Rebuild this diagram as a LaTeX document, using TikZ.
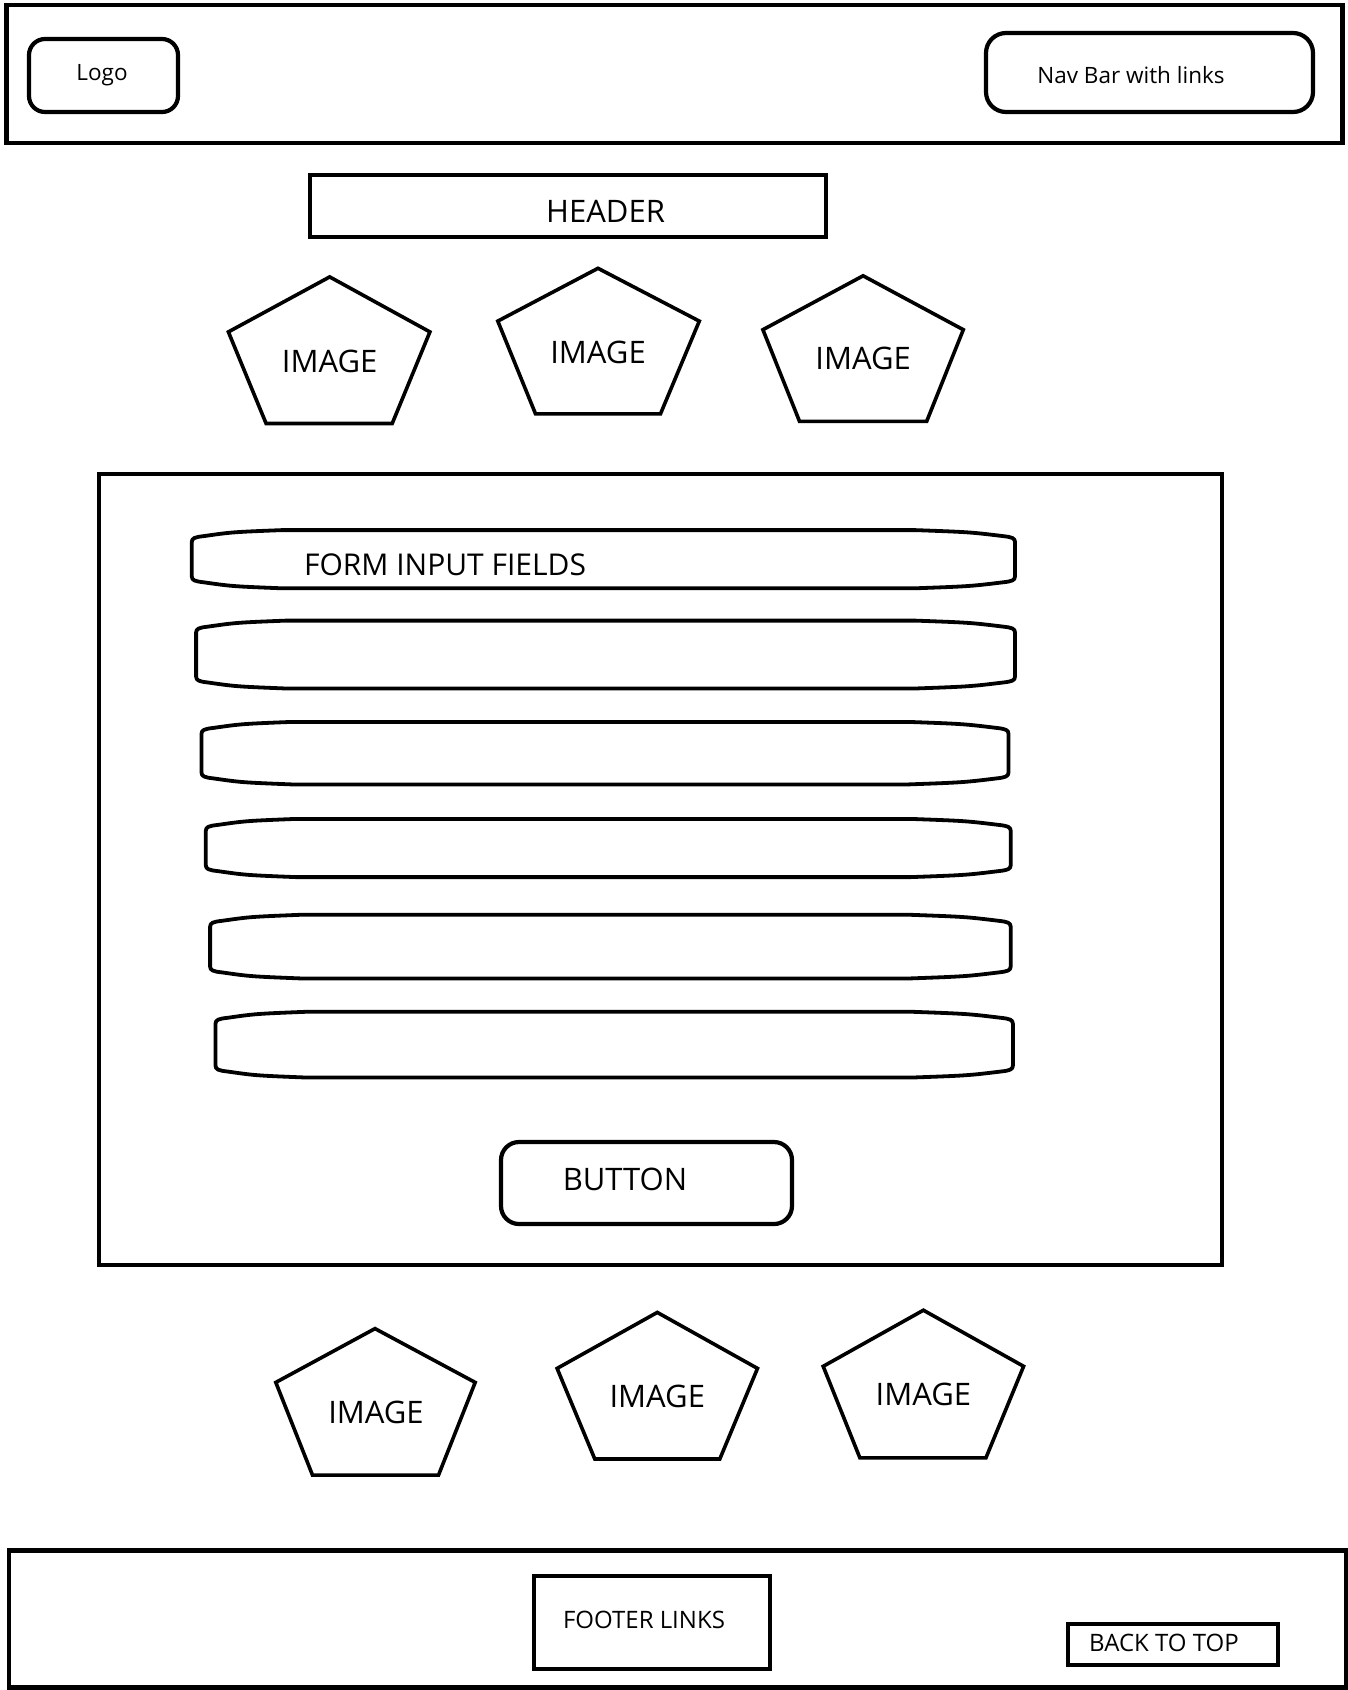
\documentclass[tikz,border=0pt]{standalone}
\usepackage{fontspec}
\setmainfont{Open Sans}
\usetikzlibrary{calc}
\tikzset{
  frame/.style={draw, line width=4.2pt, inner sep=0pt, outer sep=0pt},
  rbox/.style={frame, rounded corners=16pt},
  plain/.style={draw=none, inner sep=0pt, outer sep=0pt},
  bigtxt/.style={inner sep=0pt, font=\fontsize{31}{36}\selectfont},
  midtxt/.style={inner sep=0pt, font=\fontsize{24}{28}\selectfont},
  smalltxt/.style={inner sep=0pt, font=\fontsize{22.5}{26}\selectfont},
  pentline/.style={line width=3.6pt, line join=miter},
  fieldline/.style={line width=3.8pt, line join=round},
}
\newcommand\fieldoutline[1]{%
  \draw[fieldline]
    ($(#1.north west)+(0,12)$) .. controls ($(#1.north west)+(0,8)$) and ($(#1.north west)+(3,7)$) .. ($(#1.north west)+(12,6)$)
    .. controls ($(#1.north west)+(40,2)$) .. ($(#1.north west)+(90,0)$)
    -- ($(#1.north east)+(-100,0)$) .. controls ($(#1.north east)+(-45,2)$) .. ($(#1.north east)+(-12,6)$)
    .. controls ($(#1.north east)+(-3,7)$) and ($(#1.north east)+(0,8)$) .. ($(#1.north east)+(0,12)$)
    -- ($(#1.south east)+(0,-12)$) .. controls ($(#1.south east)+(0,-8)$) and ($(#1.south east)+(-3,-7)$) .. ($(#1.south east)+(-12,-6)$)
    .. controls ($(#1.south east)+(-45,-2)$) .. ($(#1.south east)+(-100,0)$)
    -- ($(#1.south west)+(90,0)$) .. controls ($(#1.south west)+(40,-2)$) .. ($(#1.south west)+(12,-6)$)
    .. controls ($(#1.south west)+(3,-7)$) and ($(#1.south west)+(0,-8)$) .. ($(#1.south west)+(0,-12)$)
    -- cycle;}
\newcommand\pentagon[6]{% name, top, left, right, bl, br
  \coordinate (#1t) at #2; \coordinate (#1l) at #3; \coordinate (#1r) at #4;
  \coordinate (#1bl) at #5; \coordinate (#1br) at #6;
  \draw[pentline] (#1t) -- (#1r) -- (#1br) -- (#1bl) -- (#1l) -- cycle;}
\begin{document}
\begin{tikzpicture}[x=1pt,y=-1pt]
\useasboundingbox (0,0) rectangle (1348,1690);
% top bar
\node[frame, minimum width=1336pt, minimum height=138pt] (topbar) at (674.5,74.3) {};
\node[rbox, minimum width=149pt, minimum height=73pt] (logo) at (103.5,75.5) {};
\node[smalltxt] (logotxt) at (102,75) {Logo};
\node[rbox, rounded corners=20pt, minimum width=327pt, minimum height=79pt] (nav) at (1149.5,72.5) {};
\node[smalltxt] (navtxt) at (1131,75) {Nav Bar with links};
% header
\node[frame, minimum width=516pt, minimum height=62pt] (header) at (568,206) {};
\node[bigtxt] (headertxt) at (605.6,211) {HEADER};
% top images
\pentagon{pa}{(329.7,276.9)}{(228.4,331.9)}{(429.9,331.9)}{(266.1,423.5)}{(392.2,423.5)}
\node[bigtxt] (pat) at (329.7,361) {IMAGE};
\pentagon{pb}{(598,268.3)}{(497.8,321.1)}{(699.3,321.1)}{(535.5,413.8)}{(660.5,413.8)}
\node[bigtxt] (pbt) at (598,352.3) {IMAGE};
\pentagon{pc}{(863.1,275.8)}{(762.9,329.7)}{(963.3,329.7)}{(799.5,421.3)}{(926.7,421.3)}
\node[bigtxt] (pct) at (863.1,358.8) {IMAGE};
% form box
\node[frame, minimum width=1123pt, minimum height=791pt] (form) at (660.5,869.5) {};
\node[plain, minimum width=823.2pt, minimum height=58.2pt] (f1) at (603.4,559.2) {};
\node[plain, minimum width=818.9pt, minimum height=67.9pt] (f2) at (605.55,654.55) {};
\node[plain, minimum width=807pt, minimum height=62.5pt] (f3) at (605,753.15) {};
\node[plain, minimum width=804.9pt, minimum height=58.2pt] (f4) at (608.25,848) {};
\node[plain, minimum width=800.6pt, minimum height=63.6pt] (f5) at (610.4,946.6) {};
\node[plain, minimum width=797.4pt, minimum height=65.7pt] (f6) at (614.2,1044.65) {};
\fieldoutline{f1}\fieldoutline{f2}\fieldoutline{f3}
\fieldoutline{f4}\fieldoutline{f5}\fieldoutline{f6}
\node[bigtxt, font=\fontsize{30}{34}\selectfont, anchor=west] (ftxt) at (303.9,564.6) {FORM INPUT FIELDS};
\node[rbox, rounded corners=18pt, minimum width=291pt, minimum height=82pt] (button) at (646.5,1183) {};
\node[bigtxt] (buttontxt) at (625,1179) {BUTTON};
% bottom images
\pentagon{pd}{(375,1328.6)}{(275.8,1382.4)}{(475.2,1382.4)}{(312.5,1475.1)}{(438.5,1475.1)}
\node[bigtxt] (pdt) at (376,1412.6) {IMAGE};
\pentagon{pe}{(657.3,1312.4)}{(557.1,1368.4)}{(757.5,1368.4)}{(594.8,1459)}{(719.8,1459)}
\node[bigtxt] (pet) at (657.3,1396.4) {IMAGE};
\pentagon{pf}{(923.4,1310.2)}{(823.2,1366.3)}{(1023.6,1366.3)}{(859.9,1457.9)}{(985.9,1457.9)}
\node[bigtxt] (pft) at (923.4,1394.3) {IMAGE};
% footer
\node[frame, minimum width=1337pt, minimum height=137pt] (footer) at (677.2,1619) {};
\node[frame, minimum width=236pt, minimum height=93pt] (flinks) at (652,1622.5) {};
\node[midtxt] (flinkstxt) at (644,1620) {FOOTER LINKS};
\node[frame, minimum width=210pt, minimum height=41pt] (btt) at (1173,1644.5) {};
\node[midtxt] (btttxt) at (1164,1643) {BACK TO TOP};
\end{tikzpicture}
\end{document}
